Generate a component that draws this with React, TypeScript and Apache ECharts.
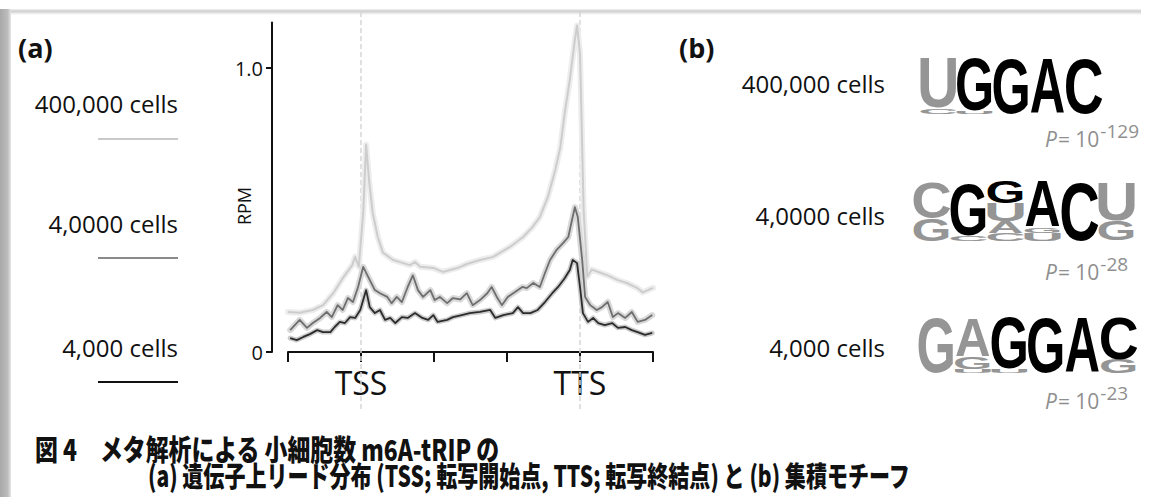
import React, { useEffect, useRef } from "react";
import * as echarts from "echarts";

// ---------- data: meta-gene read distribution (x in axis units, TSS = 1, TTS = 4) ----------
const xTickLabels = ["", "TSS", "", "", "TTS", ""];
const yTickLabels: Record<number, string> = { 0: "0", 1: "1.0" };

const lightPos = [0, 0.16, 0.34, 0.48, 0.62, 0.75, 0.88, 0.92, 0.97, 1.03, 1.07, 1.11, 1.16, 1.23, 1.3, 1.44, 1.58, 1.67, 1.74, 1.81, 1.99, 2.12, 2.32, 2.36, 2.45, 2.63, 2.81, 3.04, 3.22, 3.34, 3.45, 3.56, 3.66, 3.73, 3.79, 3.86, 3.93, 3.96, 4.0, 4.05, 4.1, 4.16, 4.27, 4.38, 4.51, 4.64, 4.78, 4.86, 5.0];
const lightRpm = [0.141, 0.138, 0.148, 0.165, 0.207, 0.26, 0.306, 0.335, 0.3, 0.49, 0.73, 0.605, 0.49, 0.405, 0.35, 0.324, 0.313, 0.306, 0.317, 0.3, 0.296, 0.282, 0.296, 0.3, 0.31, 0.324, 0.335, 0.37, 0.405, 0.437, 0.475, 0.546, 0.64, 0.72, 0.84, 0.958, 1.1, 1.15, 1.05, 0.5, 0.265, 0.29, 0.28, 0.27, 0.254, 0.243, 0.226, 0.21, 0.226];

const midPos = [0.03, 0.16, 0.26, 0.34, 0.44, 0.53, 0.6, 0.68, 0.75, 0.82, 0.89, 0.96, 1.03, 1.1, 1.19, 1.26, 1.36, 1.42, 1.49, 1.56, 1.64, 1.71, 1.78, 1.85, 1.95, 2.01, 2.08, 2.18, 2.26, 2.36, 2.45, 2.53, 2.63, 2.73, 2.79, 2.86, 2.93, 3.01, 3.11, 3.21, 3.27, 3.36, 3.45, 3.52, 3.59, 3.68, 3.77, 3.84, 3.89, 3.93, 3.97, 4.03, 4.07, 4.14, 4.23, 4.3, 4.38, 4.45, 4.52, 4.62, 4.71, 4.79, 4.89, 4.99];
const midRpm = [0.077, 0.113, 0.085, 0.102, 0.12, 0.141, 0.123, 0.165, 0.148, 0.19, 0.176, 0.229, 0.3, 0.264, 0.218, 0.207, 0.194, 0.172, 0.194, 0.176, 0.229, 0.27, 0.218, 0.194, 0.218, 0.183, 0.194, 0.172, 0.19, 0.185, 0.207, 0.165, 0.183, 0.207, 0.229, 0.194, 0.165, 0.194, 0.211, 0.229, 0.225, 0.243, 0.229, 0.278, 0.324, 0.36, 0.384, 0.405, 0.465, 0.51, 0.475, 0.324, 0.194, 0.165, 0.148, 0.158, 0.176, 0.123, 0.137, 0.12, 0.141, 0.106, 0.113, 0.13];

const darkPos = [0.03, 0.12, 0.21, 0.3, 0.4, 0.48, 0.58, 0.64, 0.71, 0.78, 0.85, 0.92, 0.99, 1.07, 1.12, 1.19, 1.26, 1.33, 1.4, 1.47, 1.56, 1.64, 1.74, 1.84, 1.92, 1.99, 2.05, 2.18, 2.26, 2.38, 2.49, 2.63, 2.77, 2.84, 2.95, 3.08, 3.15, 3.22, 3.32, 3.42, 3.52, 3.62, 3.7, 3.79, 3.86, 3.9, 3.96, 4.0, 4.04, 4.11, 4.18, 4.25, 4.34, 4.44, 4.52, 4.62, 4.71, 4.79, 4.89, 4.99];
const darkRpm = [0.049, 0.042, 0.053, 0.063, 0.077, 0.07, 0.07, 0.088, 0.106, 0.102, 0.123, 0.12, 0.148, 0.218, 0.158, 0.137, 0.148, 0.113, 0.12, 0.102, 0.123, 0.12, 0.137, 0.12, 0.113, 0.13, 0.106, 0.113, 0.123, 0.13, 0.137, 0.141, 0.148, 0.12, 0.13, 0.137, 0.158, 0.137, 0.137, 0.148, 0.176, 0.207, 0.229, 0.26, 0.289, 0.324, 0.313, 0.229, 0.137, 0.106, 0.12, 0.102, 0.095, 0.102, 0.085, 0.088, 0.077, 0.07, 0.06, 0.067];

const cellLabels = ["400,000 cells", "4,0000 cells", "4,000 cells"];

// ---------- data: motifs, each column = letters bottom→top [letter, bits, isCore] ----------
type Cell = [string, number, number];
const motif400k: Cell[][] = [
  [["C", 0.2, 0], ["U", 1.72, 0]],
  [["U", 0.1, 0], ["G", 1.83, 1]],
  [["G", 1.93, 1]],
  [["A", 1.93, 1]],
  [["C", 1.93, 1]],
];
const motif40k: Cell[][] = [
  [["G", 0.76, 0], ["C", 1.24, 0]],
  [["C", 0.2, 0], ["G", 1.8, 1]],
  [["C", 0.28, 0], ["A", 0.41, 0], ["U", 0.62, 0], ["G", 0.76, 1]],
  [["U", 0.28, 0], ["G", 0.2, 0], ["A", 1.59, 1]],
  [["C", 2.03, 1]],
  [["G", 0.69, 0], ["U", 1.31, 0]],
];
const motif4k: Cell[][] = [
  [["G", 1.93, 0]],
  [["U", 0.14, 0], ["G", 0.41, 0], ["A", 1.31, 0]],
  [["U", 0.14, 0], ["G", 1.79, 1]],
  [["G", 1.93, 1]],
  [["A", 1.93, 1]],
  [["G", 0.48, 0], ["C", 1.45, 1]],
];
const motifPExp = ["-129", "-28", "-23"];

const captionLines = [
  "図 4　メタ解析による 小細胞数 m6A-tRIP の",
  "(a) 遺伝子上リード分布 (TSS; 転写開始点, TTS; 転写終結点) と (b) 集積モチーフ",
];

// ---------- helpers ----------
const FONT = '"Open Sans", "Noto Sans", sans-serif';
const LETTER_INK: Record<string, number> = { A: 0.72, C: 0.64, G: 0.7, U: 0.6 };

let measureCtx: CanvasRenderingContext2D | null = null;
function measure(text: string, font: string): number {
  if (!measureCtx) measureCtx = document.createElement("canvas").getContext("2d");
  measureCtx!.font = font;
  return measureCtx!.measureText(text).width;
}

function txt(x: number, y: number, text: string, o: any = {}) {
  const align = o.align || "left";
  const va = o.va || "middle";
  return {
    type: "text",
    x,
    y,
    rotation: o.rotation || 0,
    scaleX: o.scaleX || 1,
    scaleY: o.scaleY || 1,
    silent: true,
    style: {
      text,
      fill: o.fill || "#111",
      font: o.font,
      align,
      verticalAlign: va,
      textAlign: align,
      textVerticalAlign: va,
    },
  };
}

function logo(cols: Cell[][], left: number, colW: number, baseline: number, pxPerBit: number) {
  const els: any[] = [];
  cols.forEach((stack, i) => {
    let bottom = baseline;
    const cx = left + colW * (i + 0.5);
    stack.forEach(([letter, bits, core]) => {
      const h = bits * pxPerBit;
      const F = 100;
      els.push(
        txt(cx, bottom - h / 2, letter, {
          align: "center",
          font: `bold ${F}px "Liberation Sans", Arial, sans-serif`,
          fill: core ? "#000" : "#959595",
          scaleX: (colW * 0.97) / (LETTER_INK[letter] * F),
          scaleY: h / (0.716 * F),
        })
      );
      bottom -= h;
    });
  });
  return els;
}

function pvalue(x: number, y: number, exp: string) {
  const fP = `italic 21px ${FONT}`;
  const fB = `21px ${FONT}`;
  const fS = `19px ${FONT}`;
  const wP = measure("P", fP);
  const wB = measure("= 10", fB);
  return [
    txt(x, y, "P", { font: fP, fill: "#8f8f8f" }),
    txt(x + wP + 1, y, "= 10", { font: fB, fill: "#8f8f8f" }),
    txt(x + wP + 1 + wB + 1, y - 8, exp, { font: fS, fill: "#8f8f8f" }),
  ];
}

function pairs(xs: number[], ys: number[]) {
  return xs.map((x, i) => [x, ys[i]]);
}

export default function App() {
  const ref = useRef<HTMLDivElement>(null);

  useEffect(() => {
    if (!ref.current) return;
    const chart = echarts.init(ref.current, undefined, { renderer: "svg" });

    const lineSeries = (name: string, data: number[][], color: string, width: number, bandColor: string, bandWidth: number, z: number) => [
      {
        name: name + " band",
        type: "line",
        data,
        symbol: "none",
        silent: true,
        z,
        lineStyle: { color: bandColor, width: bandWidth, join: "round", cap: "round" },
      },
      {
        name,
        type: "line",
        data,
        symbol: "none",
        silent: true,
        z: z + 1,
        lineStyle: { color, width, join: "round" },
      },
    ];

    // caption fitting
    const capFont = `900 29px "Noto Sans CJK JP", sans-serif`;
    const cap1W = measure(captionLines[0], capFont);
    const cap2W = measure(captionLines[1], capFont);

    const graphics: any[] = [
      // frame
      {
        type: "rect",
        shape: { x: 0, y: 9, width: 11, height: 490 },
        silent: true,
        style: {
          fill: new echarts.graphic.LinearGradient(0, 0, 1, 0, [
            { offset: 0, color: "#a8a8a8" },
            { offset: 0.7, color: "#bdbdbd" },
            { offset: 1, color: "#e6e6e6" },
          ]),
        },
      },
      {
        type: "rect",
        shape: { x: 11, y: 9, width: 1130, height: 6 },
        silent: true,
        style: {
          fill: new echarts.graphic.LinearGradient(0, 0, 0, 1, [
            { offset: 0, color: "#f4f4f4" },
            { offset: 0.35, color: "#cdcdcd" },
            { offset: 1, color: "#ffffff" },
          ]),
        },
      },
      // panel labels
      txt(18, 47, "(a)", { font: `bold 27px ${FONT}` }),
      txt(679, 47, "(b)", { font: `bold 27px ${FONT}` }),
      // RPM
      txt(244, 206, "RPM", { font: `18px ${FONT}`, align: "center", rotation: Math.PI / 2 }),
      // left legend
      ...cellLabels.map((t, i) => txt(178, [103, 223, 347][i], t, { font: `24px ${FONT}`, align: "right" })),
      ...["#c9c9c9", "#8a8a8a", "#111111"].map((c, i) => ({
        type: "line",
        silent: true,
        shape: { x1: 98, y1: [139, 258, 382][i], x2: 178, y2: [139, 258, 382][i] },
        style: { stroke: c, lineWidth: 2.2 },
      })),
      // right labels
      ...cellLabels.map((t, i) => txt(885, [83, 215, 347][i], t, { font: `24px ${FONT}`, align: "right" })),
      // motifs
      ...logo(motif400k, 920, 36.4, 114, 29),
      ...logo(motif40k, 913, 37, 241, 29),
      ...logo(motif4k, 918, 36.5, 373, 29),
      ...pvalue(1045, 139, motifPExp[0]),
      ...pvalue(1045, 272, motifPExp[1]),
      ...pvalue(1045, 401, motifPExp[2]),
      // caption
      txt(35, 449, captionLines[0], { font: capFont, scaleX: 465 / cap1W }),
      txt(148, 474, captionLines[1], { font: capFont, scaleX: 763 / cap2W }),
    ];

    const option: any = {
      animation: false,
      backgroundColor: "#ffffff",
      grid: { left: 288, top: 22.6, width: 365, height: 329.4, containLabel: false },
      xAxis: {
        type: "value",
        min: 0,
        max: 5,
        interval: 1,
        splitLine: { show: false },
        axisLine: { show: true, lineStyle: { color: "#111", width: 2 } },
        axisTick: { show: true, length: 10, lineStyle: { color: "#111", width: 2 } },
        axisLabel: {
          formatter: (v: number) => xTickLabels[Math.round(v)] || "",
          fontSize: 32,
          fontFamily: FONT,
          color: "#111",
          margin: 14,
        },
      },
      yAxis: {
        type: "value",
        min: 0,
        max: 1.16,
        interval: 1,
        offset: 16,
        splitLine: { show: false },
        axisLine: { show: true, onZero: false, lineStyle: { color: "#111", width: 2 } },
        axisTick: { show: true, length: 6, lineStyle: { color: "#111", width: 2 } },
        axisLabel: {
          formatter: (v: number) => yTickLabels[v] ?? "",
          fontSize: 20,
          fontFamily: FONT,
          color: "#111",
          margin: 9,
          showMaxLabel: false,
        },
      },
      series: [
        ...lineSeries("400,000 cells", pairs(lightPos, lightRpm), "#cdcdcd", 2, "#ededed", 6, 2),
        ...lineSeries("4,0000 cells", pairs(midPos, midRpm), "#6e6e6e", 1.8, "#d9d9d9", 6, 4),
        ...lineSeries("4,000 cells", pairs(darkPos, darkRpm), "#2c2c2c", 1.8, "#cccccc", 5, 6),
      ],
      graphic: { elements: graphics },
    };

    chart.setOption(option);

    // dashed guide lines at TSS and TTS, positioned through the x axis scale
    const guides = [1, 4].map((v) => {
      const px = chart.convertToPixel({ xAxisIndex: 0 }, v) as number;
      return {
        type: "line",
        silent: true,
        z: 1,
        shape: { x1: px, y1: 12, x2: px, y2: 410 },
        style: { stroke: "#d6d6d6", lineWidth: 1.5, lineDash: [5, 3] },
      };
    });
    chart.setOption({ graphic: { elements: [...graphics, ...guides] } });

    return () => chart.dispose();
  }, []);

  return (
    <div
      ref={ref}
      style={{ position: "fixed", left: 0, top: 0, width: 1150, height: 497, background: "#fff" }}
    />
  );
}
